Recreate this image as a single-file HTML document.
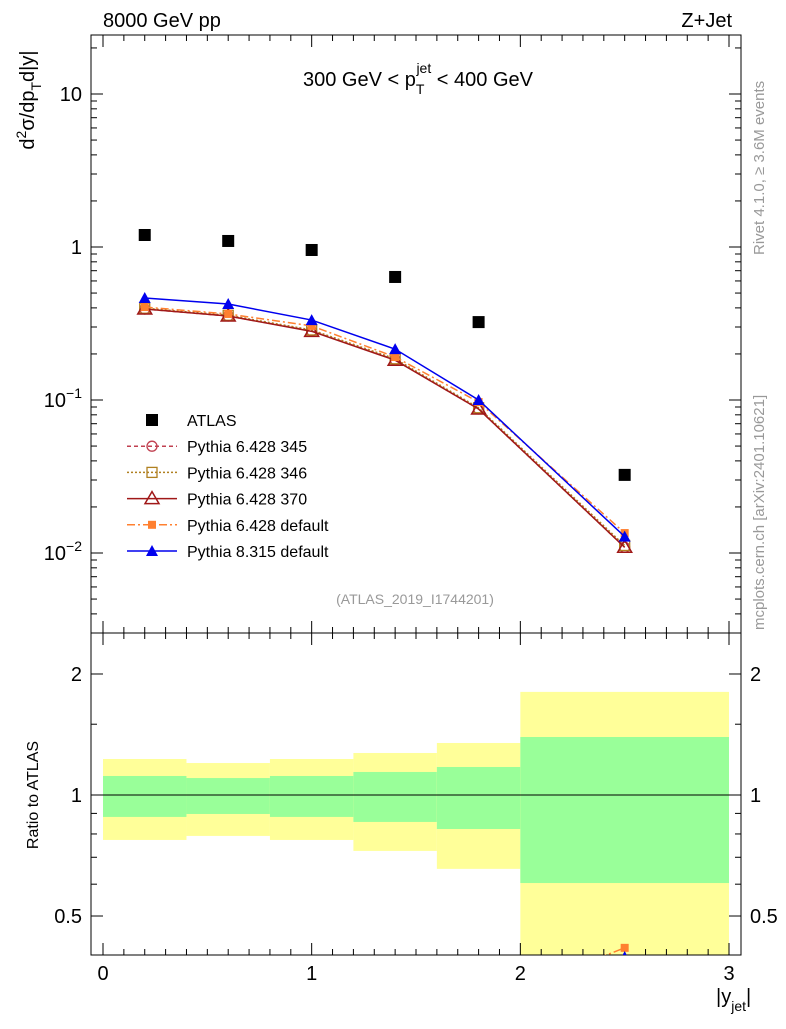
<!DOCTYPE html>
<html><head><meta charset="utf-8"><style>
body{margin:0;background:#fff}
svg{font-family:"Liberation Sans",sans-serif}
</style></head><body>
<svg id="c" width="786" height="1024" viewBox="0 0 786 1024" xmlns="http://www.w3.org/2000/svg"></svg>
<script>
const xs=[0.2,0.6,1.0,1.4,1.8,2.5];
const atlas=[1.198,1.095,0.956,0.637,0.323,0.0324];
const py345=[0.393,0.354,0.283,0.183,0.0873,0.0109];
const py346=[0.398,0.358,0.287,0.186,0.089,0.0112];
const py370=[0.393,0.354,0.281,0.182,0.0873,0.0109];
const py6def=[0.405,0.365,0.305,0.191,0.097,0.0135];
const py8def=[0.464,0.424,0.333,0.215,0.100,0.0128];
const binEdges=[0,0.4,0.8,1.2,1.6,2.0,3.0];
const yelLo=[0.773,0.791,0.773,0.726,0.655,0.30];
const yelHi=[1.229,1.201,1.229,1.272,1.347,1.805];
const grnLo=[0.882,0.897,0.882,0.857,0.823,0.604];
const grnHi=[1.115,1.102,1.115,1.141,1.174,1.394];
const mainTicks=[[10,"10"],[1,"1"]];

const S=document.getElementById('c'),NS="http://www.w3.org/2000/svg";
function el(t,a,p){const e=document.createElementNS(NS,t);for(const k in a)e.setAttribute(k,a[k]);(p||S).appendChild(e);return e;}
const X=v=>103+v*208.67;
const Y=v=>247-153*Math.log10(v);
const R=v=>795-402*Math.log10(v);
const L=91,Rr=741,T=35,M=633,B=955;

const defs=el('defs',{});
const cp1=el('clipPath',{id:'cm'},defs);el('rect',{x:L,y:T,width:Rr-L,height:M-T},cp1);
const cp2=el('clipPath',{id:'cr'},defs);el('rect',{x:L,y:M,width:Rr-L,height:B-M},cp2);

const gb=el('g',{'clip-path':'url(#cr)'});
for(let i=0;i<6;i++){
 let r=el('rect',{x:X(binEdges[i]),y:R(yelHi[i]),width:X(binEdges[i+1])-X(binEdges[i]),height:R(yelLo[i])-R(yelHi[i]),fill:'#ffff99'},gb);
 
 let g=el('rect',{x:X(binEdges[i]),y:R(grnHi[i]),width:X(binEdges[i+1])-X(binEdges[i]),height:R(grnLo[i])-R(grnHi[i]),fill:'#99ff99'},gb);
 
}
el('line',{x1:X(0),x2:X(3),y1:R(1),y2:R(1),stroke:'#000','stroke-width':1});

el('rect',{x:L,y:T,width:Rr-L,height:M-T,fill:'none',stroke:'#000'});
el('rect',{x:L,y:M,width:Rr-L,height:B-M,fill:'none',stroke:'#000'});

for(let d=-3;d<=1;d++)for(let k=1;k<10;k++){const v=k*Math.pow(10,d);const y=Y(v);if(y<T||y>M)continue;const len=k==1?12:6;
 el('line',{x1:L,x2:L+len,y1:y,y2:y,stroke:'#000'});el('line',{x1:Rr,x2:Rr-len,y1:y,y2:y,stroke:'#000'});}
function txt(x,y,s,a){const t=el('text',Object.assign({x:x,y:y,'font-size':20},a||{}));t.textContent=s;return t;}
mainTicks.forEach(([v,s])=>{const t=txt(82,Y(v)+7,s,{'text-anchor':'end'});});
[[0.1,-1],[0.01,-2]].forEach(([v,e])=>{const t=el('text',{x:82,y:Y(v)+7,'font-size':20,'text-anchor':'end'});t.innerHTML='10<tspan dy="-9" font-size="14">−'+(-e)+'</tspan>';});
[0.5,0.6,0.7,0.8,0.9,1,1.5,2].forEach(v=>{const y=R(v);const len=(v==0.5||v==1||v==2)?12:6;el('line',{x1:L,x2:L+len,y1:y,y2:y,stroke:'#000'});el('line',{x1:Rr,x2:Rr-len,y1:y,y2:y,stroke:'#000'});});
[[2,"2"],[1,"1"],[0.5,"0.5"]].forEach(([v,s])=>{txt(82,R(v)+7,s,{'text-anchor':'end'});txt(750,R(v)+7,s);});
for(let v=0;v<=3.0001;v+=0.1){const x=X(v);const maj=Math.abs(v-Math.round(v))<1e-6;const len=maj?12:6;
 [[T,1],[M,-1],[M,1],[B,-1]].forEach(([y0,s])=>el('line',{x1:x,x2:x,y1:y0,y2:y0+s*len,stroke:'#000'}));}
[0,1,2,3].forEach(v=>txt(X(v),980,String(v),{'text-anchor':'middle'}));

const gm=el('g',{'clip-path':'url(#cm)'});
function series(vals,color,dash,marker,name){
 const pts=xs.map((x,i)=>X(x)+','+Y(vals[i])).join(' ');
 const pl=el('polyline',{points:pts,fill:'none',stroke:color,'stroke-width':1.5,'stroke-dasharray':dash||''},gm);
 
 xs.forEach((x,i)=>drawMarker(X(x),Y(vals[i]),marker,color,gm,name));
 const gr=el('g',{'clip-path':'url(#cr)'});
 const rp=xs.map((x,i)=>X(x)+','+R(vals[i]/atlas[i])).join(' ');
 el('polyline',{points:rp,fill:'none',stroke:color,'stroke-width':1.5,'stroke-dasharray':dash||''},gr);
 xs.forEach((x,i)=>drawMarker(X(x),R(vals[i]/atlas[i]),marker,color,gr,name));
}
function drawMarker(x,y,m,c,p,name){let e;
 if(m=='oc')e=el('circle',{cx:x,cy:y,r:5,fill:'none',stroke:c,'stroke-width':1.3},p);
 else if(m=='os')e=el('rect',{x:x-5,y:y-5,width:10,height:10,fill:'none',stroke:c,'stroke-width':1.3},p);
 else if(m=='ot')e=el('polygon',{points:`${x},${y-7} ${x-7},${y+5} ${x+7},${y+5}`,fill:'none',stroke:c,'stroke-width':1.5},p);
 else if(m=='fs')e=el('rect',{x:x-4,y:y-4,width:8,height:8,fill:c},p);
 else if(m=='ft')e=el('polygon',{points:`${x},${y-6} ${x-6},${y+5} ${x+6},${y+5}`,fill:c},p);
 else if(m=='bs')e=el('rect',{x:x-6,y:y-6,width:12,height:12,fill:c},p);
 
}
series(py345,'#c04050','4,3','oc','pythia-6428-345');
series(py346,'#b08020','2,2','os','pythia-6428-346');
series(py370,'#a01818','','ot','pythia-6428-370');
series(py6def,'#ff8030','8,3,2,3','fs','pythia-6428-default');
series(py8def,'#0000ee','','ft','pythia-8315-default');
xs.forEach((x,i)=>drawMarker(X(x),Y(atlas[i]),'bs','#000',gm,'atlas'));

const leg=[['ATLAS','#000','','bs'],['Pythia 6.428 345','#c04050','4,3','oc'],['Pythia 6.428 346','#b08020','2,2','os'],['Pythia 6.428 370','#a01818','','ot'],['Pythia 6.428 default','#ff8030','8,3,2,3','fs'],['Pythia 8.315 default','#0000ee','','ft']];
leg.forEach(([n,c,d,m],i)=>{const y=420+i*26.2;const g=el('g',{});
 if(i>0)el('line',{x1:127,x2:177,y1:y,y2:y,stroke:c,'stroke-width':1.5,'stroke-dasharray':d},g);
 drawMarker(152,y,m,c,g,'legend');const t=txt(187,y+6,n,{'font-size':16});g.appendChild(t);});

txt(103,27,'8000 GeV pp',{'font-size':20});
txt(732,27,'Z+Jet',{'font-size':20,'text-anchor':'end'});
const ti=el('text',{x:418,y:86,'font-size':20,'text-anchor':'middle'});ti.innerHTML='300 GeV &lt; p<tspan dy="8" font-size="14">T</tspan><tspan dy="-21" dx="-8" font-size="14">jet</tspan><tspan dy="13"> &lt; 400 GeV</tspan>';
const ya=el('text',{transform:'translate(34,100) rotate(-90)','font-size':20,'text-anchor':'middle'});ya.innerHTML='d<tspan dy="-8" font-size="14">2</tspan><tspan dy="8">σ/dp</tspan><tspan dy="7" font-size="14">T</tspan><tspan dy="-7">d|y|</tspan>';


const yr=txt(0,0,'Ratio to ATLAS',{transform:'translate(38,795) rotate(-90)','font-size':16,'text-anchor':'middle'});
const xa=el('text',{x:716,y:1003,'font-size':20});xa.innerHTML='|y<tspan dy="8" font-size="14">jet</tspan><tspan dy="-8">|</tspan>';


txt(415,604,'(ATLAS_2019_I1744201)',{'font-size':14,'text-anchor':'middle',fill:'#999'});
txt(0,0,'Rivet 4.1.0, ≥ 3.6M events',{transform:'translate(764,255) rotate(-90)','font-size':15,fill:'#999'});
txt(0,0,'mcplots.cern.ch [arXiv:2401.10621]',{transform:'translate(764,630) rotate(-90)','font-size':15,fill:'#999'});
</script>
</body></html>
